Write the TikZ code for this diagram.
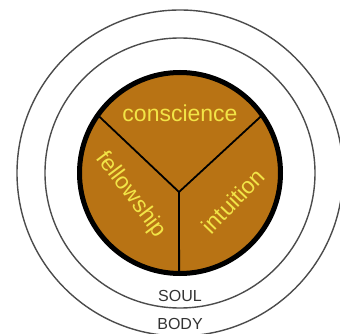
\documentclass[tikz,border=0pt]{standalone}
\usepackage{fontspec}
\setmainfont{Liberation Sans}
\definecolor{spirit}{RGB}{184,115,20}
\definecolor{lamp}{RGB}{242,228,70}
\begin{document}
\begin{tikzpicture}[x=1pt,y=1pt,
  ring/.style={draw=black!70,line width=1.4pt},
  part/.style={text=lamp,font=\fontsize{23}{23}\selectfont,inner sep=1pt},
  layer/.style={text=black!80,font=\fontsize{16}{16}\selectfont,inner sep=1pt}]
\useasboundingbox (0,0) rectangle (340,333);
\coordinate (c) at (180,160);
% body and soul
\draw[ring] (c) circle (163);\draw[ring] (c) circle (135);
% spirit
\fill[spirit] (c) circle (101);
\coordinate (j) at (179,141);
\path (c) ++(145:99) coordinate (l);\path (c) ++(35:99) coordinate (r);\path (c) ++(269.5:99) coordinate (b);
\draw[line width=1.8pt] (l)--(j)--(r);\draw[line width=1.8pt] (j)--(b);
\draw[line width=5pt] (c) circle (100.5);
\node[part] (consc) at (180,220) {conscience};
\node[part,rotate=-53] (fellow) at (131,138) {fellowship};
\node[part,rotate=46] (intu) at (233,132) {intuition};
\node[layer] (soul) at (180,37) {SOUL};\node[layer] (body) at (180,9) {BODY};
\end{tikzpicture}
\end{document}
